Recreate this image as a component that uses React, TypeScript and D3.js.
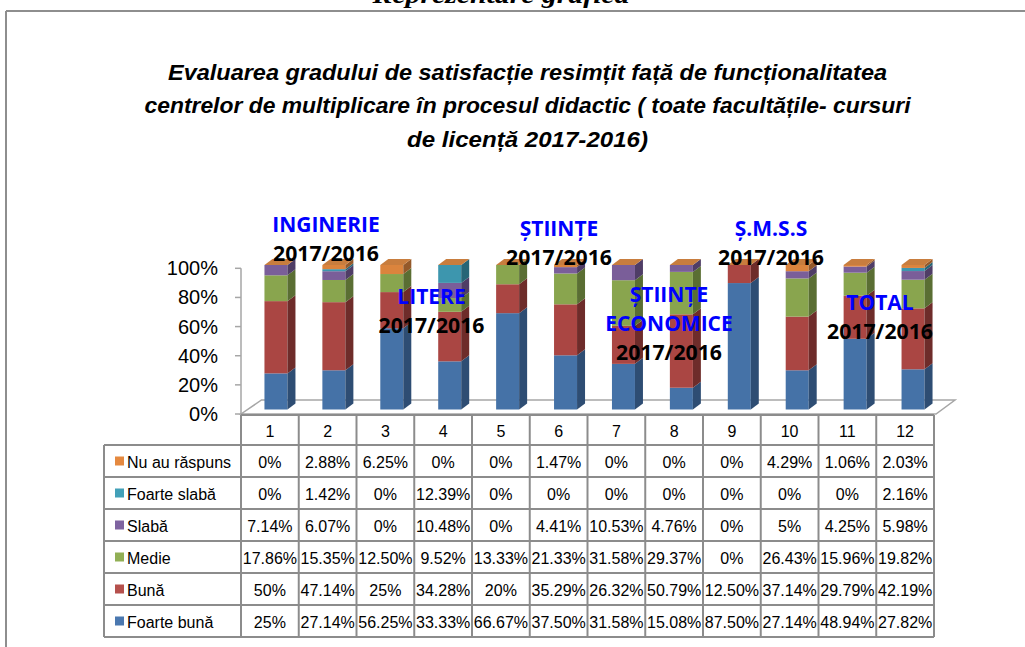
import React from "react";
import * as d3 from "d3";

const categories = ["1", "2", "3", "4", "5", "6", "7", "8", "9", "10", "11", "12"];

const seriesNames = ["Foarte bună", "Bună", "Medie", "Slabă", "Foarte slabă", "Nu au răspuns"];

const foarteBuna = [25, 27.14, 56.25, 33.33, 66.67, 37.5, 31.58, 15.08, 87.5, 27.14, 48.94, 27.82];
const buna = [50, 47.14, 25, 34.28, 20, 35.29, 26.32, 50.79, 12.5, 37.14, 29.79, 42.19];
const medie = [17.86, 15.35, 12.5, 9.52, 13.33, 21.33, 31.58, 29.37, 0, 26.43, 15.96, 19.82];
const slaba = [7.14, 6.07, 0, 10.48, 0, 4.41, 10.53, 4.76, 0, 5, 4.25, 5.98];
const foarteSlaba = [0, 1.42, 0, 12.39, 0, 0, 0, 0, 0, 0, 0, 2.16];
const nuAuRaspuns = [0, 2.88, 6.25, 0, 0, 1.47, 0, 0, 0, 4.29, 1.06, 2.03];

const seriesValues = [foarteBuna, buna, medie, slaba, foarteSlaba, nuAuRaspuns];

const frontColors = ["#4572A7", "#AA4643", "#89A54E", "#7A5E99", "#3D96AE", "#DB843D"];
const sideColors = ["#2E4D73", "#6E2C2A", "#5A6E33", "#4F3D66", "#276576", "#94592A"];
const legendColors = ["#4A78B0", "#B5504C", "#91AF55", "#7E63A0", "#42A0B8", "#E5893F"];
const topColor = "#C87D3E";

const titleLines = [
  "Evaluarea gradului de satisfacție resimțit față de funcționalitatea",
  "centrelor de multiplicare în procesul didactic ( toate facultățile- cursuri",
  "de licență 2017-2016)",
];

const overlayLabels = [
  { lines: ["INGINERIE", "2017/2016"], x: 326, y: 224 },
  { lines: ["LITERE", "2017/2016"], x: 431.5, y: 295.5 },
  { lines: ["ȘTIINȚE", "2017/2016"], x: 559, y: 228 },
  { lines: ["ȘTIINȚE", "ECONOMICE", "2017/2016"], x: 669, y: 294 },
  { lines: ["Ș.M.S.S", "2017/2016"], x: 771, y: 228 },
  { lines: ["TOTAL", "2017/2016"], x: 880, y: 301.5 },
];

const fmtPct = (v: number) => (Number.isInteger(v) ? `${v}%` : `${v.toFixed(2)}%`);

export default function App() {
  const W = 1025;
  const H = 647;

  const xCol = d3.scaleBand<string>().domain(categories).range([241, 934]);
  const xBar = d3.scaleBand<string>().domain(categories).range([247, 942]);
  const yAxis = d3.scaleLinear().domain([0, 1]).range([414, 268.3]);
  const yBar = d3.scaleLinear().domain([0, 1]).range([409.5, 265]);
  const barW = 23;
  const dx = 8;
  const dy = -6;

  const rows = categories.map((c, i) => {
    const o: Record<string, number | string> = { cat: c };
    seriesNames.forEach((s, k) => (o[s] = seriesValues[k][i]));
    return o;
  });
  const stack = d3
    .stack<Record<string, number | string>>()
    .keys(seriesNames)
    .value((d, key) => d[key] as number)
    .offset(d3.stackOffsetExpand);
  const stacked = stack(rows);

  const ticks = yAxis.ticks(5);
  const tickFmt = d3.format(".0%");

  const tableTop = 415;
  const headerH = 30;
  const rowH = 32;
  const legendLeft = 104;
  const colLeft = 241;
  const colRight = 934;
  const tableRows = seriesNames.map((s, k) => k).reverse();
  const tableBottom = tableTop + headerH + rowH * tableRows.length;
  const lineColor = "#8C8C8C";

  const titleWidths = [719, 766, 241];

  return (
    <svg
      width={W}
      height={H}
      style={{ position: "absolute", left: 0, top: 0, background: "#fff" }}
      fontFamily="'Liberation Sans', Arial, sans-serif"
    >
      <rect x={0} y={0} width={W} height={H} fill="#fff" />
      {/* Cut-off heading */}
      <text
        x={501}
        y={3}
        textAnchor="middle"
        fontFamily="'Liberation Serif', 'Times New Roman', serif"
        fontWeight="bold"
        fontStyle="italic"
        fontSize={26}
        textLength={257}
        lengthAdjust="spacingAndGlyphs"
      >
        Reprezentare grafică
      </text>
      {/* Frame */}
      <line x1={6} y1={11} x2={W} y2={11} stroke="#8E8E8E" strokeWidth={2} />
      <line x1={6} y1={11} x2={6} y2={H} stroke="#8E8E8E" strokeWidth={2} />

      {/* Title */}
      {titleLines.map((t, i) => (
        <text
          key={i}
          x={527.5}
          y={79.5 + i * 33.5}
          textAnchor="middle"
          fontWeight="bold"
          fontStyle="italic"
          fontSize={21.5}
          textLength={titleWidths[i]}
          lengthAdjust="spacingAndGlyphs"
        >
          {t}
        </text>
      ))}

      {/* Floor */}
      <polygon
        points={`241,414 261.5,400 955,400 936,414`}
        fill="none"
        stroke="#A6A6A6"
        strokeWidth={1.5}
      />

      {/* Y axis */}
      <line x1={241} y1={yAxis(0)} x2={241} y2={yAxis(1)} stroke="#A6A6A6" strokeWidth={1.5} />
      {ticks.map((t) => (
        <g key={t}>
          <line x1={235} x2={241} y1={yAxis(t)} y2={yAxis(t)} stroke="#A6A6A6" strokeWidth={1.5} />
          <text x={218} y={yAxis(t)} textAnchor="end" dominantBaseline="central" fontSize={20} fill="#000">
            {tickFmt(t)}
          </text>
        </g>
      ))}

      {/* Bars */}
      {categories.map((c, i) => {
        const bx = (xBar(c) as number) + (xBar.bandwidth() - barW) / 2;
        const segs = stacked.map((s) => s[i]);
        const topY = yBar(segs[segs.length - 1][1]);
        return (
          <g key={c}>
            {segs.map((seg, k) => {
              const y1 = yBar(seg[1]);
              const y0 = yBar(seg[0]);
              if (y0 - y1 <= 0) return null;
              return (
                <g key={k}>
                  <rect x={bx} y={y1} width={barW} height={y0 - y1} fill={frontColors[k]} />
                  <polygon
                    points={`${bx + barW},${y1} ${bx + barW + dx},${y1 + dy} ${bx + barW + dx},${y0 + dy} ${bx + barW},${y0}`}
                    fill={sideColors[k]}
                  />
                </g>
              );
            })}
            <polygon
              points={`${bx},${topY} ${bx + dx},${topY + dy} ${bx + barW + dx},${topY + dy} ${bx + barW},${topY}`}
              fill={topColor}
            />
          </g>
        );
      })}

      {/* Overlay labels */}
      {overlayLabels.map((lab, i) => (
        <g key={i}>
          {lab.lines.map((ln, j) => {
            const isYear = ln === "2017/2016";
            return (
              <text
                key={j}
                x={lab.x}
                y={lab.y + j * 29}
                textAnchor="middle"
                dominantBaseline="central"
                fontWeight="bold"
                fontSize={21}
                fill={isYear ? "#000" : "#0000FF"}
                fontFamily="'Open Sans', 'Liberation Sans', sans-serif"
                textLength={isYear ? 106 : undefined}
                lengthAdjust="spacingAndGlyphs"
              >
                {ln}
              </text>
            );
          })}
        </g>
      ))}

      {/* Data table */}
      <g>
        <rect x={colLeft} y={tableTop} width={colRight - colLeft} height={tableBottom - tableTop} fill="#fff" />
        <rect x={legendLeft} y={tableTop + headerH} width={colLeft - legendLeft} height={tableBottom - tableTop - headerH} fill="#fff" />
        {categories.map((c) => (
          <text
            key={c}
            x={(xCol(c) as number) + xCol.bandwidth() / 2}
            y={tableTop + headerH / 2 + 1}
            textAnchor="middle"
            dominantBaseline="central"
            fontSize={16}
          >
            {c}
          </text>
        ))}
        {tableRows.map((k, r) => {
          const ry = tableTop + headerH + r * rowH;
          return (
            <g key={k}>
              <rect x={115} y={ry + rowH / 2 - 4.5} width={9} height={9} fill={legendColors[k]} />
              <text x={127} y={ry + rowH / 2 + 1} dominantBaseline="central" fontSize={16}>
                {seriesNames[k]}
              </text>
              {categories.map((c, i) => (
                <text
                  key={c}
                  x={(xCol(c) as number) + xCol.bandwidth() / 2}
                  y={ry + rowH / 2 + 1}
                  textAnchor="middle"
                  dominantBaseline="central"
                  fontSize={16}
                >
                  {fmtPct(seriesValues[k][i])}
                </text>
              ))}
            </g>
          );
        })}
        {/* grid lines */}
        {d3.range(tableRows.length + 1).map((r) => {
          const ly = tableTop + headerH + r * rowH;
          return <line key={"h" + r} x1={legendLeft} x2={colRight} y1={ly} y2={ly} stroke={lineColor} strokeWidth={2} />;
        })}
        <line x1={colLeft} x2={colRight} y1={tableTop} y2={tableTop} stroke={lineColor} strokeWidth={2} />
        <line x1={legendLeft} x2={legendLeft} y1={tableTop + headerH} y2={tableBottom} stroke={lineColor} strokeWidth={2} />
        {categories.map((c) => (
          <line
            key={"v" + c}
            x1={xCol(c) as number}
            x2={xCol(c) as number}
            y1={tableTop}
            y2={tableBottom}
            stroke={lineColor}
            strokeWidth={2}
          />
        ))}
        <line x1={colRight} x2={colRight} y1={tableTop} y2={tableBottom} stroke={lineColor} strokeWidth={2} />
      </g>
    </svg>
  );
}
